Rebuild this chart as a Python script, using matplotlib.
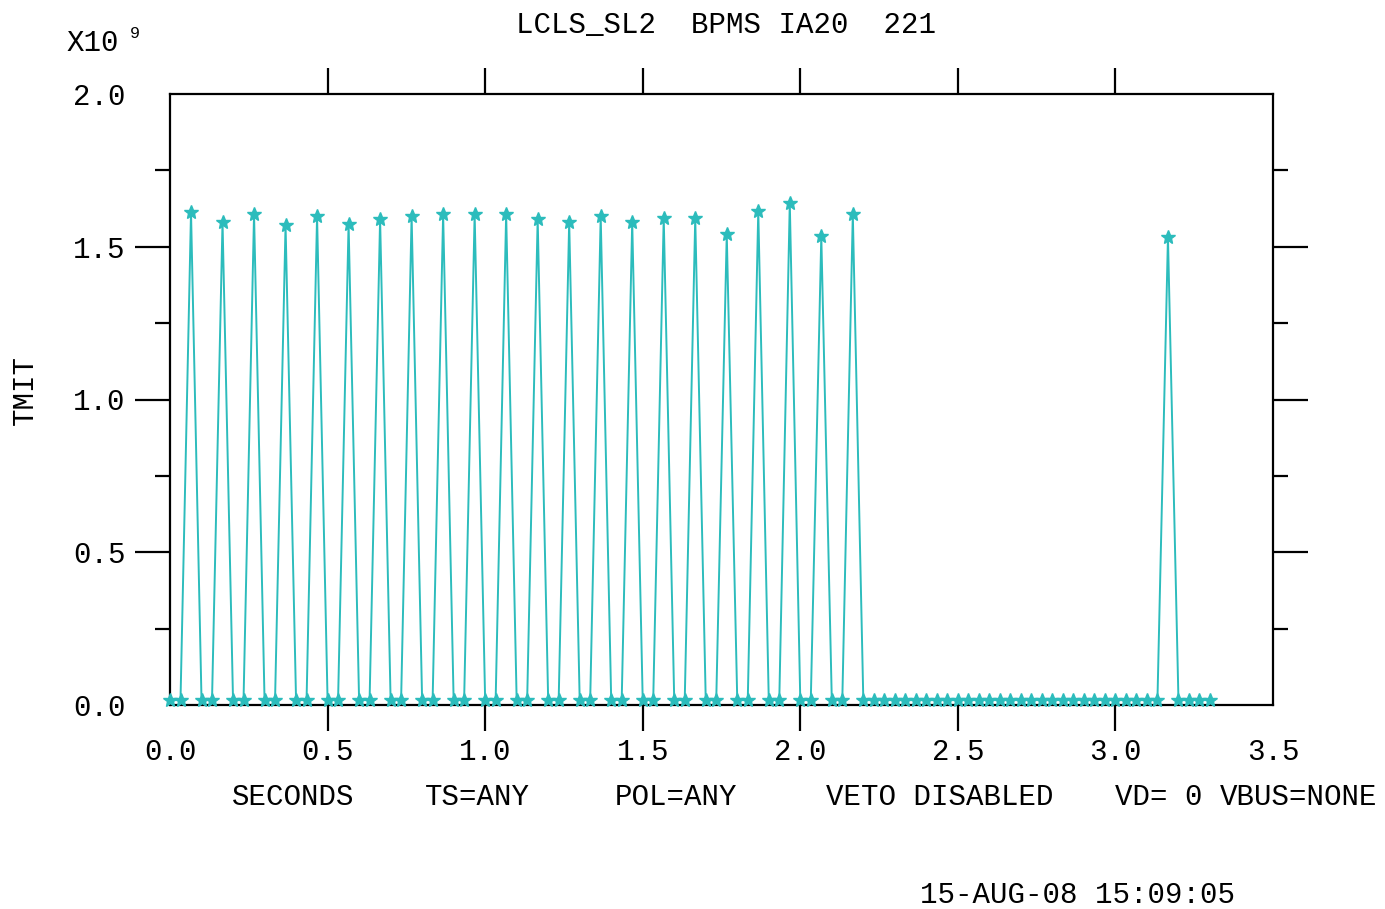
import matplotlib
matplotlib.use("Agg")
import matplotlib.pyplot as plt
from matplotlib.ticker import FixedLocator

# sampling at 30 Hz, beam at 10 Hz for the first 2.2 s, one extra pulse later
n_samples = 100
sample_period = 1.0 / 30.0
base_level = 0.016  # x1e9

# (sample index, TMIT x1e9) read at each peak star
peak_index = [2, 5, 8, 11, 14, 17, 20, 23, 26, 29, 32, 35, 38, 41, 44, 47,
              50, 53, 56, 59, 62, 65, 95]
peak_tmit = [1.614, 1.581, 1.607, 1.571, 1.600, 1.574, 1.591, 1.600, 1.607,
             1.607, 1.607, 1.591, 1.581, 1.600, 1.581, 1.594, 1.594, 1.542,
             1.617, 1.643, 1.535, 1.607, 1.532]

x_ticklabels = ["0.0", "0.5", "1.0", "1.5", "2.0", "2.5", "3.0", "3.5"]
y_ticklabels = ["0.0", "0.5", "1.0", "1.5", "2.0"]

title = "LCLS_SL2  BPMS IA20  221"
footer = [("SECONDS", 232), ("TS=ANY", 425), ("POL=ANY", 615),
          ("VETO DISABLED", 826), ("VD= 0", 1115), ("VBUS=NONE", 1220)]
stamp = "15-AUG-08 15:09:05"

seconds = [i * sample_period for i in range(n_samples)]
tmit = [base_level] * n_samples
for i, v in zip(peak_index, peak_tmit):
    tmit[i] = v

W, H = 1385, 909
font = "Liberation Mono"
fs = 21
color = "#2cbcbc"

fig = plt.figure(figsize=(W / 100, H / 100), dpi=100)
ax = fig.add_axes([170 / W, 1 - 705 / H, (1273 - 170) / W, (705 - 94) / H])

ax.plot(seconds, tmit, color=color, linewidth=1.4, marker="*",
        markersize=10, markeredgewidth=1.0, clip_on=False, zorder=3)

ax.set_xlim(0, 3.5)
ax.set_ylim(0, 2.0)

for s in ax.spines.values():
    s.set_linewidth(1.6)

ax.xaxis.set_major_locator(FixedLocator([0, 0.5, 1, 1.5, 2, 2.5, 3, 3.5]))
ax.set_xticklabels(x_ticklabels, fontfamily=font, fontsize=fs)
ax.yaxis.set_major_locator(FixedLocator([0, 0.5, 1, 1.5, 2]))
ax.set_yticklabels(y_ticklabels, fontfamily=font, fontsize=fs)
ax.yaxis.set_minor_locator(FixedLocator([0.25, 0.75, 1.25, 1.75]))

ax.tick_params(axis="x", which="major", direction="out", length=19, width=1.6,
               top=True, bottom=True, pad=5)
ax.tick_params(axis="y", which="major", direction="out", length=25, width=1.6,
               left=True, right=True, pad=7)
ax.tick_params(axis="y", which="minor", direction="out", length=11, width=1.6,
               left=True, right=True)

# no tick marks on the corners
for t in (ax.xaxis.get_major_ticks()[0], ax.xaxis.get_major_ticks()[-1],
          ax.yaxis.get_major_ticks()[0], ax.yaxis.get_major_ticks()[-1]):
    t.tick1line.set_visible(False)
    t.tick2line.set_visible(False)

fig.text(726 / W, 1 - 25 / H, title, ha="center", va="center",
         fontfamily=font, fontsize=fs)
fig.text(66 / W, 1 - 43 / H, "X10", ha="left", va="center",
         fontfamily=font, fontsize=fs)
fig.text(130 / W, 1 - 34 / H, "9", ha="left", va="center",
         fontfamily=font, fontsize=12)
fig.text(25 / W, 1 - 390 / H, "TMIT", ha="center", va="center",
         rotation=90, fontfamily=font, fontsize=fs)

for word, x in footer:
    fig.text(x / W, 1 - 797 / H, word, ha="left", va="center",
             fontfamily=font, fontsize=fs)
fig.text(920 / W, 1 - 895 / H, stamp, ha="left", va="center",
         fontfamily=font, fontsize=fs)

fig.savefig("out.png", dpi=100, facecolor="white")
